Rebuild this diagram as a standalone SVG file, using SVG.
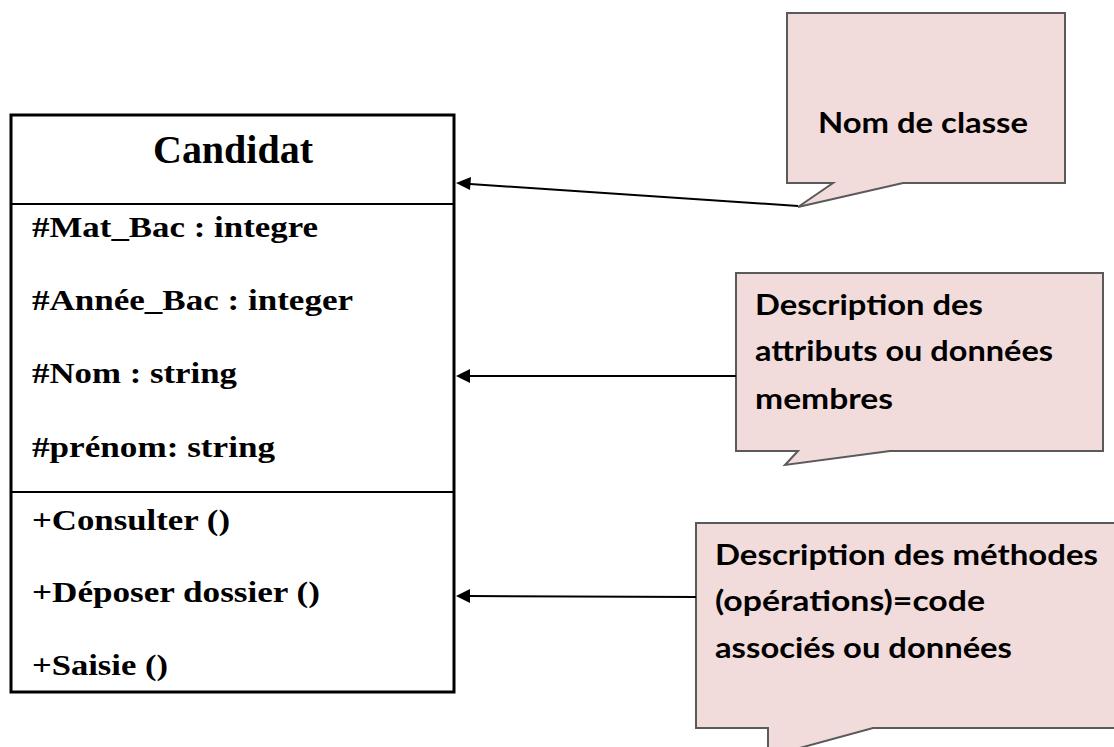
<svg xmlns="http://www.w3.org/2000/svg" width="1114" height="747" viewBox="0 0 1114 747">
  <style>
    .cls { fill: #ffffff; stroke: #000000; stroke-width: 3; }
    .sep { stroke: #000000; stroke-width: 2; }
    .title { font-family: "Liberation Serif", "Times New Roman", serif; font-weight: bold; font-size: 40px; fill: #000; }
    .member { font-family: "Liberation Serif", "Times New Roman", serif; font-weight: bold; font-size: 30px; fill: #000; }
    .callout { fill: #F2DCDB; stroke: #5a5a5a; stroke-width: 2; stroke-linejoin: miter; }
    .note { font-family: Lato, "Open Sans", sans-serif; font-weight: bold; font-size: 29px; fill: #000; }
    .link { stroke: #000000; stroke-width: 2; fill: none; }
  </style>

  <!-- UML class -->
  <g id="class-candidat">
    <rect class="cls" x="11" y="115" width="443" height="577"/>
    <line class="sep" x1="11" y1="204" x2="454" y2="204"/>
    <line class="sep" x1="11" y1="492" x2="454" y2="492"/>
    <text class="title" x="153" y="163" textLength="160" lengthAdjust="spacingAndGlyphs">Candidat</text>
    <text class="member" x="32" y="237" textLength="286" lengthAdjust="spacingAndGlyphs">#Mat_Bac : integre</text>
    <text class="member" x="32" y="310" textLength="321" lengthAdjust="spacingAndGlyphs">#Année_Bac : integer</text>
    <text class="member" x="32" y="383" textLength="205" lengthAdjust="spacingAndGlyphs">#Nom : string</text>
    <text class="member" x="32" y="457" textLength="243" lengthAdjust="spacingAndGlyphs">#prénom: string</text>
    <text class="member" x="32" y="530" textLength="198" lengthAdjust="spacingAndGlyphs">+Consulter ()</text>
    <text class="member" x="32" y="602" textLength="288" lengthAdjust="spacingAndGlyphs">+Déposer dossier  ()</text>
    <text class="member" x="32" y="675" textLength="136" lengthAdjust="spacingAndGlyphs">+Saisie ()</text>
  </g>

  <!-- Callouts -->
  <g id="note-nom-classe">
    <path class="callout" d="M787,13 H1065 V183 H903 L798,207 L833,183 H787 Z"/>
    <text class="note" x="818" y="133" textLength="210" lengthAdjust="spacingAndGlyphs">Nom de classe</text>
  </g>
  <g id="note-attributs">
    <path class="callout" d="M736,273 H1103 V451 H890 L785,465 L798,451 H736 Z"/>
    <text class="note" x="755" y="315" textLength="228" lengthAdjust="spacingAndGlyphs">Description des</text>
    <text class="note" x="755" y="361" textLength="298" lengthAdjust="spacingAndGlyphs">attributs ou données</text>
    <text class="note" x="755" y="409" textLength="138" lengthAdjust="spacingAndGlyphs">membres</text>
  </g>
  <g id="note-methodes">
    <path class="callout" d="M696,523 H1125 V728 H873 L785,752 L768,752 V728 H696 Z"/>
    <text class="note" x="715" y="565" textLength="383" lengthAdjust="spacingAndGlyphs">Description des méthodes</text>
    <text class="note" x="715" y="611" textLength="270" lengthAdjust="spacingAndGlyphs">(opérations)=code</text>
    <text class="note" x="715" y="658" textLength="297" lengthAdjust="spacingAndGlyphs">associés ou données</text>
  </g>

  <!-- Connectors -->
  <g id="connectors">
    <line class="link" x1="798" y1="206" x2="470" y2="184"/>
    <path d="M456,183 L471,177 L470,190 Z" fill="#000"/>
    <line class="link" x1="736" y1="376" x2="470" y2="376"/>
    <path d="M456,376 L470,369 L470,383 Z" fill="#000"/>
    <line class="link" x1="696" y1="597" x2="470" y2="596"/>
    <path d="M456,596 L470,589 L470,603 Z" fill="#000"/>
  </g>
</svg>
